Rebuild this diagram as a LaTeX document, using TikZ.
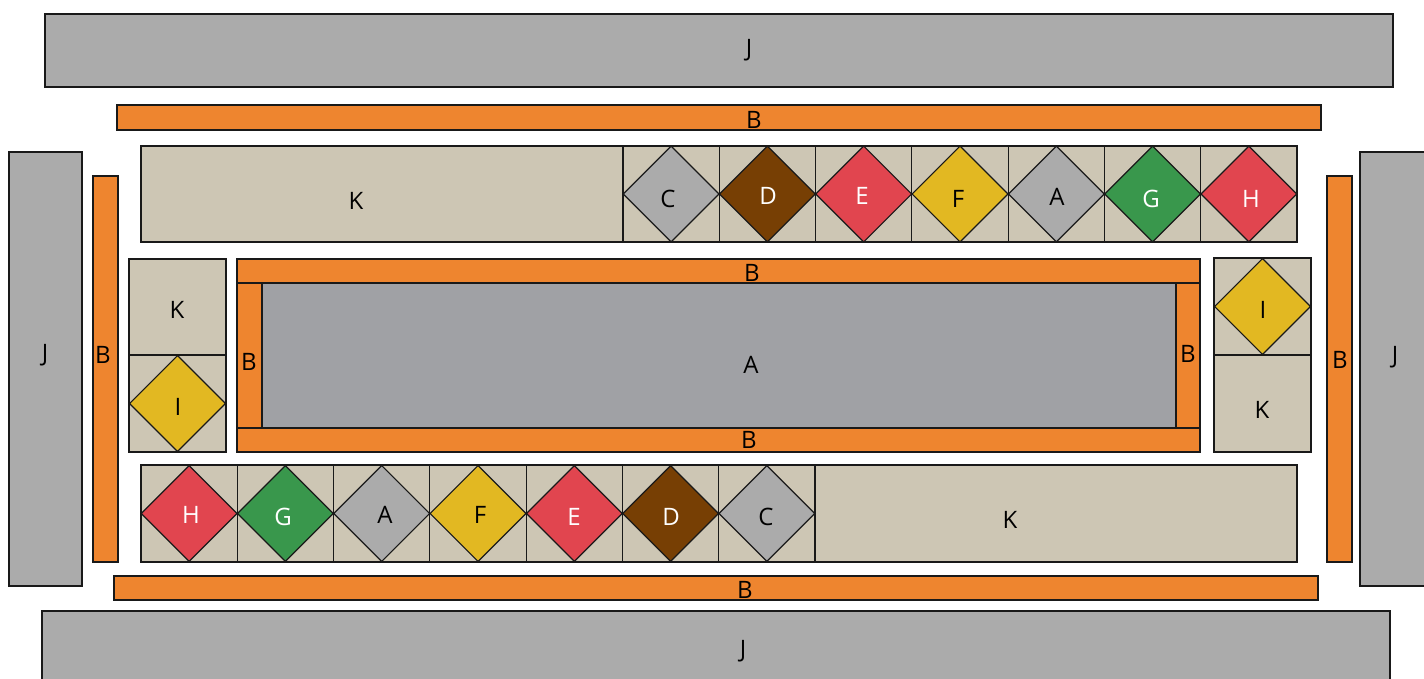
\documentclass[tikz,border=0pt]{standalone}
\usepackage{fontspec}
\setmainfont{Open Sans}
\usetikzlibrary{shapes.geometric}
\definecolor{jgray}{HTML}{ABABAB}
\definecolor{agray}{HTML}{A0A1A5}
\definecolor{borange}{HTML}{EE852F}
\definecolor{tan}{HTML}{CDC6B4}
\definecolor{brownD}{HTML}{773F04}
\definecolor{redE}{HTML}{E1454F}
\definecolor{yellowF}{HTML}{E2B822}
\definecolor{greenG}{HTML}{39974C}
\tikzset{
  part/.style={draw=black!90, line width=1.2pt, inner sep=0pt},
  lbl/.style={inner sep=0pt, font=\fontsize{24}{24}\selectfont},
  jbox/.style={part, fill=jgray},
  bbox/.style={part, fill=borange},
  kbox/.style={part, fill=tan},
  abox/.style={part, fill=agray},
  gem/.style={part, diamond, minimum width=96.3pt, minimum height=96.3pt, aspect=1},
}
% name, x1, y1, x2, y2, style, label x, label y, text
\newcommand\myrect[9]{%
  \node[#6, minimum width={((#4)-(#2))*1pt}, minimum height={((#5)-(#3))*1pt}] (#1) at ({((#2)+(#4))/2},{((#3)+(#5))/2}) {};
  \node[lbl] (#1-t) at (#7,#8) {#9};}
\begin{document}
\begin{tikzpicture}[x=1pt,y=-1pt]
\useasboundingbox (0,0) rectangle (1424,679);
\clip (0,0) rectangle (1424,679);
% J blocks
\myrect{jTop}{45}{14}{1393}{87}{jbox}{749}{50}{J}
\myrect{jLeft}{9}{152}{82}{586}{jbox}{45}{355}{J}
\myrect{jRight}{1360}{152}{1433}{586}{jbox}{1395}{357}{J}
\myrect{jBot}{42}{611}{1390}{700}{jbox}{743}{651}{J}
% outer B strips
\myrect{bTop}{117}{105}{1321}{130}{bbox}{754}{120}{B}
\myrect{bBot}{114}{576}{1318}{600}{bbox}{745}{590}{B}
\myrect{bLeft}{93}{176}{118}{562}{bbox}{103}{355}{B}
\myrect{bRight}{1327}{176}{1352}{562}{bbox}{1340}{360}{B}
% central frame
\myrect{bInTop}{237}{259}{1200}{283}{bbox}{752}{273}{B}
\myrect{bInBot}{237}{428}{1200}{452}{bbox}{749}{440}{B}
\myrect{bInLeft}{237}{283}{262}{428}{bbox}{249}{362}{B}
\myrect{bInRight}{1176}{283}{1200}{428}{bbox}{1188}{354}{B}
\myrect{aMid}{262}{283}{1176}{428}{abox}{751}{365}{A}
% top row
\myrect{kTop}{141}{146}{623}{242}{kbox}{356}{201}{K}
\foreach \l/\c/\t/\lx/\ly [count=\i from 0] in {C/jgray/black/668/199, D/brownD/white/768/196, E/redE/white/862/196, F/yellowF/black/958/199, A/jgray/black/1057/197, G/greenG/white/1151/199, H/redE/white/1251/199}{
  \pgfmathsetmacro\xa{623+\i*96.29}
  \pgfmathsetmacro\xb{623+(\i+1)*96.29}
  \node[kbox, minimum width={(\xb-\xa)*1pt}, minimum height=96pt] (cellT\i) at ({(\xa+\xb)/2},194) {};
  \node[gem, fill=\c] (gemT\i) at (cellT\i.center) {};
  \node[lbl, text=\t] (gemT\i-t) at (\lx,\ly) {\l};
}
% bottom row
\foreach \l/\c/\t/\lx/\ly [count=\i from 0] in {H/redE/white/191/515, G/greenG/white/283/517, A/jgray/black/385/515, F/yellowF/black/480/515, E/redE/white/574/517, D/brownD/white/671/517, C/jgray/black/766/517}{
  \pgfmathsetmacro\xa{141+\i*96.29}
  \pgfmathsetmacro\xb{141+(\i+1)*96.29}
  \node[kbox, minimum width={(\xb-\xa)*1pt}, minimum height=97pt] (cellB\i) at ({(\xa+\xb)/2},513.5) {};
  \node[gem, fill=\c] (gemB\i) at (cellB\i.center) {};
  \node[lbl, text=\t] (gemB\i-t) at (\lx,\ly) {\l};
}
\myrect{kBot}{815}{465}{1297}{562}{kbox}{1010}{520}{K}
% left small
\myrect{kLeft}{129}{259}{226}{355}{kbox}{177}{310}{K}
\node[kbox, minimum width=97pt, minimum height=97pt] (cellIL) at (177.5,403.5) {};
\node[gem, fill=yellowF] (gemIL) at (cellIL.center) {};
\node[lbl] (gemIL-t) at (178,407) {I};
% right small
\node[kbox, minimum width=97pt, minimum height=97pt] (cellIR) at (1262.5,306.5) {};
\node[gem, fill=yellowF] (gemIR) at (cellIR.center) {};
\node[lbl] (gemIR-t) at (1263,310) {I};
\myrect{kRight}{1214}{355}{1311}{452}{kbox}{1262}{410}{K}
\end{tikzpicture}
\end{document}
